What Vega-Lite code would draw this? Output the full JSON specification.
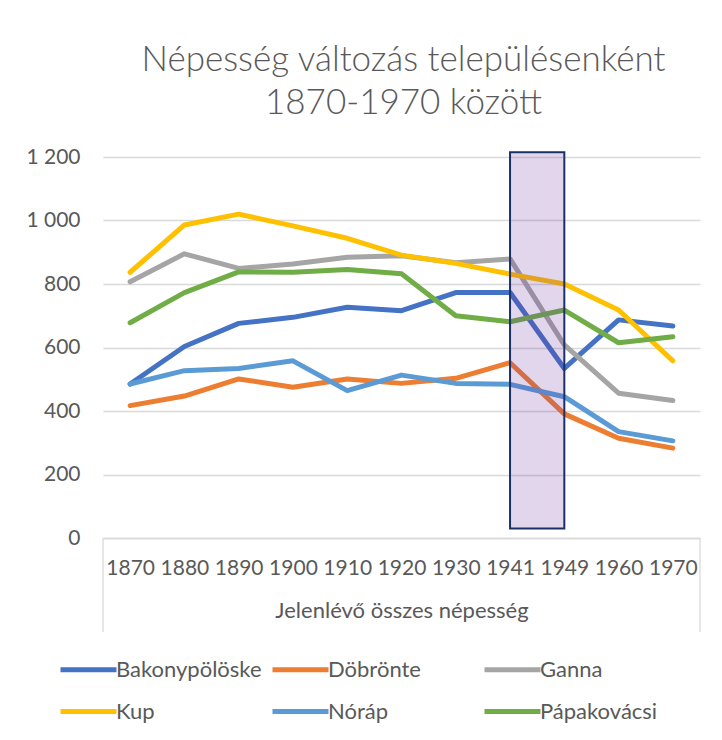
{
  "$schema": "https://vega.github.io/schema/vega-lite/v6.json",
  "autosize": "none",
  "width": 597,
  "height": 381,
  "padding": {"left": 103, "top": 157, "right": 22, "bottom": 202},
  "background": "white",
  "title": {
    "text": ["Népesség változás településenként", "1870-1970 között"],
    "font": "Lato",
    "fontWeight": 300,
    "fontSize": 35,
    "lineHeight": 43,
    "color": "#595959",
    "anchor": "middle",
    "offset": 25,
    "dx": 2
  },
  "config": {
    "view": {"stroke": null},
    "font": "Lato",
    "axis": {"labelFont": "Lato", "titleFont": "Lato", "labelColor": "#595959", "titleColor": "#595959", "labelFontSize": 21, "titleFontSize": 22, "titleFontWeight": "normal"},
    "legend": {"labelFont": "Lato", "labelFontSize": 22, "labelColor": "#595959"}
  },
  "datasets": {
    "pop": [
      {"year": "1870", "town": "Bakonypölöske", "pop": 485},
      {"year": "1880", "town": "Bakonypölöske", "pop": 603},
      {"year": "1890", "town": "Bakonypölöske", "pop": 676},
      {"year": "1900", "town": "Bakonypölöske", "pop": 695},
      {"year": "1910", "town": "Bakonypölöske", "pop": 727},
      {"year": "1920", "town": "Bakonypölöske", "pop": 716},
      {"year": "1930", "town": "Bakonypölöske", "pop": 773},
      {"year": "1941", "town": "Bakonypölöske", "pop": 773},
      {"year": "1949", "town": "Bakonypölöske", "pop": 534},
      {"year": "1960", "town": "Bakonypölöske", "pop": 687},
      {"year": "1970", "town": "Bakonypölöske", "pop": 668},
      {"year": "1870", "town": "Döbrönte", "pop": 417},
      {"year": "1880", "town": "Döbrönte", "pop": 447},
      {"year": "1890", "town": "Döbrönte", "pop": 501},
      {"year": "1900", "town": "Döbrönte", "pop": 475},
      {"year": "1910", "town": "Döbrönte", "pop": 501},
      {"year": "1920", "town": "Döbrönte", "pop": 487},
      {"year": "1930", "town": "Döbrönte", "pop": 503},
      {"year": "1941", "town": "Döbrönte", "pop": 552},
      {"year": "1949", "town": "Döbrönte", "pop": 391},
      {"year": "1960", "town": "Döbrönte", "pop": 314},
      {"year": "1970", "town": "Döbrönte", "pop": 283},
      {"year": "1870", "town": "Ganna", "pop": 807},
      {"year": "1880", "town": "Ganna", "pop": 895},
      {"year": "1890", "town": "Ganna", "pop": 849},
      {"year": "1900", "town": "Ganna", "pop": 863},
      {"year": "1910", "town": "Ganna", "pop": 884},
      {"year": "1920", "town": "Ganna", "pop": 889},
      {"year": "1930", "town": "Ganna", "pop": 867},
      {"year": "1941", "town": "Ganna", "pop": 879},
      {"year": "1949", "town": "Ganna", "pop": 608},
      {"year": "1960", "town": "Ganna", "pop": 456},
      {"year": "1970", "town": "Ganna", "pop": 433},
      {"year": "1870", "town": "Kup", "pop": 837},
      {"year": "1880", "town": "Kup", "pop": 986},
      {"year": "1890", "town": "Kup", "pop": 1020},
      {"year": "1900", "town": "Kup", "pop": 983},
      {"year": "1910", "town": "Kup", "pop": 944},
      {"year": "1920", "town": "Kup", "pop": 891},
      {"year": "1930", "town": "Kup", "pop": 865},
      {"year": "1941", "town": "Kup", "pop": 831},
      {"year": "1949", "town": "Kup", "pop": 800},
      {"year": "1960", "town": "Kup", "pop": 718},
      {"year": "1970", "town": "Kup", "pop": 558},
      {"year": "1870", "town": "Nóráp", "pop": 485},
      {"year": "1880", "town": "Nóráp", "pop": 527},
      {"year": "1890", "town": "Nóráp", "pop": 534},
      {"year": "1900", "town": "Nóráp", "pop": 558},
      {"year": "1910", "town": "Nóráp", "pop": 464},
      {"year": "1920", "town": "Nóráp", "pop": 513},
      {"year": "1930", "town": "Nóráp", "pop": 487},
      {"year": "1941", "town": "Nóráp", "pop": 484},
      {"year": "1949", "town": "Nóráp", "pop": 445},
      {"year": "1960", "town": "Nóráp", "pop": 335},
      {"year": "1970", "town": "Nóráp", "pop": 306},
      {"year": "1870", "town": "Pápakovácsi", "pop": 678},
      {"year": "1880", "town": "Pápakovácsi", "pop": 773},
      {"year": "1890", "town": "Pápakovácsi", "pop": 838},
      {"year": "1900", "town": "Pápakovácsi", "pop": 837},
      {"year": "1910", "town": "Pápakovácsi", "pop": 846},
      {"year": "1920", "town": "Pápakovácsi", "pop": 832},
      {"year": "1930", "town": "Pápakovácsi", "pop": 700},
      {"year": "1941", "town": "Pápakovácsi", "pop": 681},
      {"year": "1949", "town": "Pápakovácsi", "pop": 718},
      {"year": "1960", "town": "Pápakovácsi", "pop": 615},
      {"year": "1970", "town": "Pápakovácsi", "pop": 634}
    ],
    "highlight": [
      {"from": "1941", "to": "1949", "low": 30, "high": 1215}
    ],
    "edges": [
      {"year": "1870", "side": "left", "top": 0, "bottom": -296},
      {"year": "1970", "side": "right", "top": 0, "bottom": -296}
    ]
  },
  "layer": [
    {
      "data": {"name": "pop"},
      "mark": {"type": "line", "strokeWidth": 5, "strokeCap": "round", "strokeJoin": "round"},
      "encoding": {
        "x": {
          "field": "year", "type": "ordinal",
          "scale": {"type": "point", "padding": 0.5},
          "axis": {
            "title": "Jelenlévő összes népesség",
            "labelAngle": 0,
            "ticks": false,
            "domainColor": "#d9d9d9",
            "domainWidth": 1.3,
            "labelPadding": 19,
            "titlePadding": 22
          }
        },
        "y": {
          "field": "pop", "type": "quantitative",
          "scale": {"domain": [0, 1200], "nice": false, "zero": true},
          "axis": {
            "title": null,
            "values": [0, 200, 400, 600, 800, 1000, 1200],
            "labelExpr": "replace(format(datum.value, ','), ',', ' ')",
            "domain": false,
            "ticks": false,
            "gridColor": "#d9d9d9",
            "gridWidth": 1.3,
            "labelPadding": 23
          }
        },
        "color": {
          "field": "town", "type": "nominal",
          "scale": {
            "domain": ["Bakonypölöske", "Döbrönte", "Ganna", "Kup", "Nóráp", "Pápakovácsi"],
            "range": ["#4472C4", "#ED7D31", "#A5A5A5", "#FFC000", "#5B9BD5", "#70AD47"]
          },
          "legend": {
            "title": null,
            "orient": "none",
            "legendX": -45,
            "legendY": 482,
            "direction": "horizontal",
            "columns": 3,
            "gridAlign": "all",
            "columnPadding": 0,
            "rowPadding": -11,
            "symbolType": "stroke",
            "symbolSize": 3136,
            "symbolStrokeWidth": 5,
            "labelOffset": -3
          }
        }
      }
    },
    {
      "data": {"name": "highlight"},
      "mark": {"type": "rect", "fill": "#7030A0", "fillOpacity": 0.2, "stroke": "#1c3068", "strokeWidth": 2},
      "encoding": {
        "x": {"field": "from", "type": "ordinal"},
        "x2": {"field": "to"},
        "y": {"field": "low", "type": "quantitative"},
        "y2": {"field": "high"}
      }
    },
    {
      "data": {"name": "edges"},
      "transform": [{"filter": "datum.side == 'left'"}],
      "mark": {"type": "rule", "color": "#d9d9d9", "strokeWidth": 1.3, "xOffset": -27.1},
      "encoding": {
        "x": {"field": "year", "type": "ordinal"},
        "y": {"field": "top", "type": "quantitative"},
        "y2": {"field": "bottom"}
      }
    },
    {
      "data": {"name": "edges"},
      "transform": [{"filter": "datum.side == 'right'"}],
      "mark": {"type": "rule", "color": "#d9d9d9", "strokeWidth": 1.3, "xOffset": 27.1},
      "encoding": {
        "x": {"field": "year", "type": "ordinal"},
        "y": {"field": "top", "type": "quantitative"},
        "y2": {"field": "bottom"}
      }
    }
  ]
}
